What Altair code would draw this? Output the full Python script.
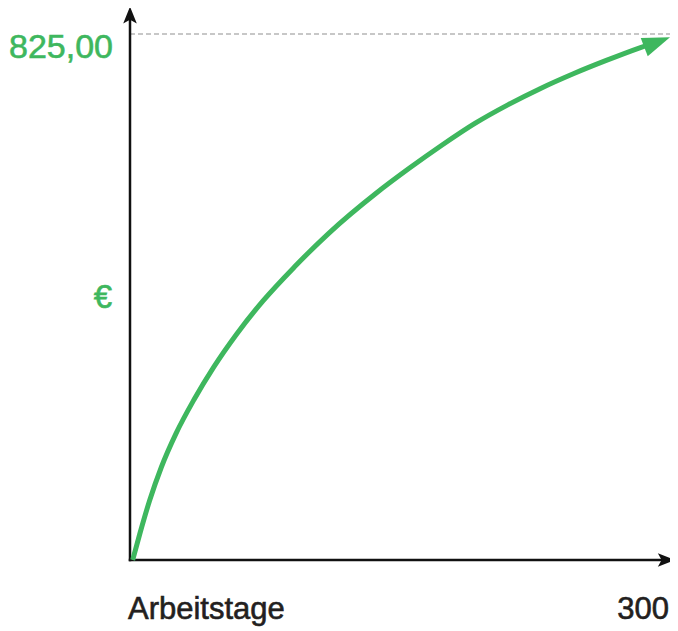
import altair as alt
import pandas as pd

# ---- data ----
days = [1.5, 5.5, 10.9, 17.4, 25.6, 35.6, 46.5, 59.3, 73.9, 91.3, 110.4,
        136.9, 155.1, 173.4, 191.6, 209.9, 228.1, 246.3, 264.6, 282.8, 290.1]
euros = [0, 41.6, 93.3, 145.5, 198.6, 251.7, 302.5, 354.5, 406.4, 459.5, 512.4,
         575.6, 614.3, 650.9, 684.8, 713.9, 739.7, 762.7, 783.6, 803.0, 810.1]
arrow_day = [300.0]
arrow_euro = [819.8]

x_max = 300
y_max = 825
x_axis_end = 302.7      # tip of the x-axis arrow (days)
y_axis_end = 868        # tip of the y-axis arrow (euros)

label_x = "Arbeitstage"
label_x_max = "300"
label_y_max = "825,00"
label_y_unit = "€"

GREEN = "#3eb75e"
DARK = "#231f20"
AXIS = "#111111"
FONT = "Liberation Sans"

xs = alt.Scale(domain=[0, x_max], nice=False, zero=False)
ys = alt.Scale(domain=[0, y_max], nice=False, zero=False)

curve = pd.DataFrame({"d": days, "e": euros})
tip = pd.DataFrame({"d": arrow_day, "e": arrow_euro})
ref = pd.DataFrame({"x": [0], "x2": [x_axis_end], "y": [y_max]})
axes = pd.DataFrame({"x": [0, 0], "y": [0, 0],
                     "x2": [0, x_axis_end - 4.7], "y2": [y_axis_end - 13, 0]})
yarrow = pd.DataFrame({"x": [0], "y": [y_axis_end]})
xarrow = pd.DataFrame({"x": [x_axis_end], "y": [0]})

ref_line = alt.Chart(ref).mark_rule(color="#b5b5b5", strokeDash=[5, 3], strokeWidth=1.3).encode(
    x=alt.X("x:Q", scale=xs, axis=None), x2="x2:Q",
    y=alt.Y("y:Q", scale=ys, axis=None))

axis_lines = alt.Chart(axes).mark_rule(color=AXIS, strokeWidth=2.5, strokeCap="square").encode(
    x=alt.X("x:Q", scale=xs, axis=None), x2="x2:Q",
    y=alt.Y("y:Q", scale=ys, axis=None), y2="y2:Q")

ARROW_UP = "M0,0L0.4,1L0,0.78L-0.4,1Z"
y_head = alt.Chart(yarrow).mark_point(shape=ARROW_UP, filled=True, size=1156, color=AXIS,
                                      opacity=1, strokeWidth=0).encode(
    x=alt.X("x:Q", scale=xs, axis=None), y=alt.Y("y:Q", scale=ys, axis=None))
x_head = alt.Chart(xarrow).mark_point(shape=ARROW_UP, filled=True, size=1156, color=AXIS,
                                      opacity=1, strokeWidth=0, angle=90).encode(
    x=alt.X("x:Q", scale=xs, axis=None), y=alt.Y("y:Q", scale=ys, axis=None))

line = alt.Chart(curve).mark_line(color=GREEN, strokeWidth=5, interpolate="monotone",
                                  strokeCap="butt").encode(
    x=alt.X("d:Q", scale=xs, axis=None), y=alt.Y("e:Q", scale=ys, axis=None))

head = alt.Chart(tip).mark_point(shape="M0,0L-1,-0.355L-1,0.355Z", filled=True, size=3047,
                                 color=GREEN, opacity=1, strokeWidth=0, angle=339).encode(
    x=alt.X("d:Q", scale=xs, axis=None), y=alt.Y("e:Q", scale=ys, axis=None))

texts = pd.DataFrame({
    "x": [0, 0, 0, x_max],
    "y": [y_max, y_max / 2, 0, 0],
    "t": [label_y_max, label_y_unit, label_x, label_x_max],
})

def txt(row, color, **kw):
    return alt.Chart(texts.iloc[[row]]).mark_text(
        font=FONT, fill=color, stroke=color, strokeWidth=0.6, **kw).encode(
        x=alt.X("x:Q", scale=xs, axis=None), y=alt.Y("y:Q", scale=ys, axis=None),
        text="t:N")

t1 = txt(0, GREEN, align="right", baseline="alphabetic", dx=-17, dy=24, fontSize=34)
t2 = txt(1, GREEN, align="right", baseline="middle", dx=-18, dy=1, fontSize=33)
t3 = txt(2, DARK, align="left", baseline="alphabetic", dx=-2, dy=59, fontSize=31)
t4 = txt(3, DARK, align="right", baseline="alphabetic", dx=-1, dy=59, fontSize=31)

chart = alt.layer(ref_line, axis_lines, y_head, x_head, line, head, t1, t2, t3, t4).properties(
    width=540, height=526,
    autosize=alt.AutoSizeParams(type="none"),
    padding={"left": 122, "top": 26, "right": 0, "bottom": 75},
).configure_view(strokeWidth=0)

chart.save("out.html", embed_options={"renderer": "svg", "actions": False})
